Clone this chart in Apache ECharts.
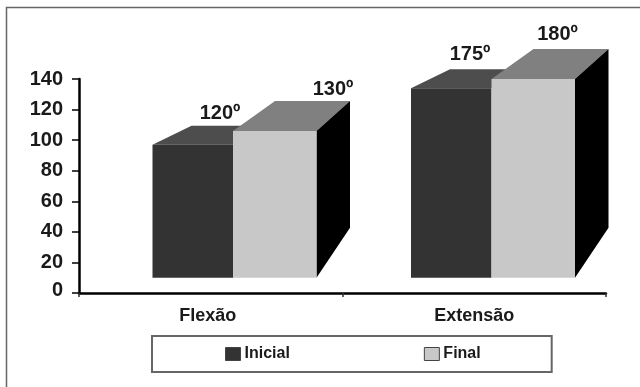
<!DOCTYPE html>
<html>
<head>
<meta charset="utf-8">
<script src="https://cdn.jsdelivr.net/npm/echarts@6/dist/echarts.min.js"></script>
<style>html,body{margin:0;padding:0;background:#fff}#c{width:640px;height:387px}</style>
</head>
<body>
<div id="c"></div>
<script>
var categories = ['Flexão', 'Extensão'];
var seriesNames = ['Inicial', 'Final'];
var inicialValues = [97, 134];
var finalValues = [106, 140];
var inicialLabels = ['120º', '175º'];
var finalLabels = ['130º', '180º'];
var baseValue = 10;
var yTicks = [0, 20, 40, 60, 80, 100, 120, 140];

var font = 'Liberation Sans, Arial, sans-serif';
var groupShift = [-58.25, -63.25];
var darkLabelShift = [[67.5, -12], [59, -15]];
var lightLabelShift = [[100, -11], [66, -15]];

function poly(points, fill) {
  return { type: 'polygon', shape: { points: points }, style: { fill: fill }, silent: true };
}
function label(text, x, y) {
  return { type: 'text', silent: true, z2: 10, style: { text: text, x: x, y: y, align: 'center', verticalAlign: 'middle',
    fontFamily: font, fontWeight: 'bold', fontSize: 20, fill: '#1a1a1a' } };
}
function renderDark(params, api) {
  var i = api.value(0);
  var top = api.coord([i, api.value(1)]);
  var base = api.coord([i, baseValue]);
  var x0 = top[0] + groupShift[i], x1 = x0 + 80.5;
  var s = darkLabelShift[i];
  return { type: 'group', children: [
    poly([[x0, top[1]], [x0 + 39, top[1] - 19], [x1 + 14, top[1] - 19], [x1, top[1]]], '#4d4d4d'),
    poly([[x0, top[1]], [x1, top[1]], [x1, base[1]], [x0, base[1]]], '#333333'),
    label(inicialLabels[i], x0 + s[0], top[1] - 19 + s[1])
  ] };
}
function renderLight(params, api) {
  var i = api.value(0);
  var top = api.coord([i, api.value(1)]);
  var base = api.coord([i, baseValue]);
  var x0 = top[0] + groupShift[i] + 80.5, x1 = x0 + 83.5;
  var s = lightLabelShift[i];
  return { type: 'group', children: [
    poly([[x0, top[1]], [x0 + 42, top[1] - 30], [x1 + 33.5, top[1] - 30], [x1, top[1]]], '#808080'),
    poly([[x1, top[1]], [x1 + 33.5, top[1] - 30], [x1 + 33.5, base[1] - 50], [x1, base[1]]], '#000000'),
    poly([[x0, top[1]], [x1, top[1]], [x1, base[1]], [x0, base[1]]], '#c8c8c8'),
    label(finalLabels[i], x0 + s[0], top[1] - 30 + s[1])
  ] };
}

var yLabelStyle = { fontFamily: font, fontWeight: 'bold', fontSize: 20, color: '#1a1a1a' };
var chart = echarts.init(document.getElementById('c'), null, { renderer: 'canvas' });
chart.setOption({
  animation: false,
  backgroundColor: '#ffffff',
  graphic: [{ type: 'rect', silent: true, z: -1,
    shape: { x: 6.5, y: 7.5, width: 660, height: 400 },
    style: { fill: 'none', stroke: '#666666', lineWidth: 1.5 } }],
  grid: { left: 79, right: 34, top: 79, bottom: 94 },
  legend: {
    data: seriesNames,
    left: 152, top: 336,
    padding: [10, 71, 10, 73],
    itemGap: 134,
    itemWidth: 15, itemHeight: 13,
    itemStyle: { borderColor: '#444444', borderWidth: 1 },
    icon: 'rect',
    borderColor: '#666666', borderWidth: 2, borderRadius: 0,
    selectedMode: false,
    textStyle: { fontFamily: font, fontWeight: 'bold', fontSize: 16, color: '#1a1a1a', padding: [0, 0, 0, -1] }
  },
  xAxis: {
    type: 'category', data: categories,
    axisLine: { lineStyle: { color: '#000', width: 2.5 } },
    axisTick: { show: true, length: 4, customValues: [-0.5, 0.5], lineStyle: { color: '#333', width: 1.5 } },
    axisLabel: { fontFamily: font, fontWeight: 'bold', fontSize: 18, color: '#1a1a1a', margin: 14,
      formatter: function (v) { return v === categories[0] ? '{a|' + v + '}' : v; },
      rich: { a: { fontFamily: font, fontWeight: 'bold', fontSize: 18, color: '#1a1a1a', padding: [0, 6, 0, 0] } } }
  },
  yAxis: {
    type: 'value', min: 0, max: 140, interval: 20,
    splitLine: { show: false },
    axisLine: { show: true, lineStyle: { color: '#000', width: 2.5 } },
    axisTick: { show: true, length: 7, lineStyle: { color: '#000', width: 1.5 } },
    axisLabel: { fontFamily: font, fontWeight: 'bold', fontSize: 20, color: '#1a1a1a', margin: 16,
      formatter: function (v) { return v === yTicks[0] ? '{z|' + v + '}' : String(v); },
      rich: { z: Object.assign({ padding: [0, 0, 6, 0] }, yLabelStyle) } }
  },
  series: [
    { name: seriesNames[0], type: 'custom', renderItem: renderDark, clip: false, z: 2,
      itemStyle: { color: '#333333' }, encode: { x: 0, y: 1 },
      data: inicialValues.map(function (v, i) { return [i, v]; }) },
    { name: seriesNames[1], type: 'custom', renderItem: renderLight, clip: false, z: 3,
      itemStyle: { color: '#c8c8c8' }, encode: { x: 0, y: 1 },
      data: finalValues.map(function (v, i) { return [i, v]; }) }
  ]
});
</script>
</body>
</html>
